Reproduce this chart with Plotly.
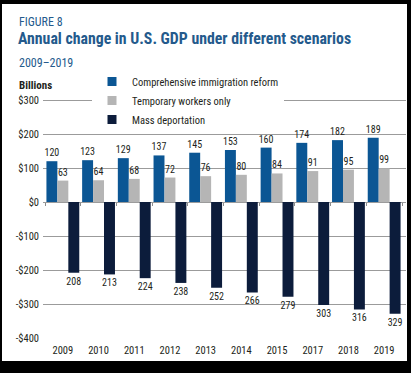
import plotly.graph_objects as go

years = ["2009", "2010", "2011", "2012", "2013", "2014", "2015", "2017", "2018", "2019"]
reform = [120, 123, 129, 137, 145, 153, 160, 174, 182, 189]
temporary = [63, 64, 68, 72, 76, 80, 84, 91, 95, 99]
deportation = [-208, -213, -224, -238, -252, -266, -279, -303, -316, -329]
series_names = ["Comprehensive immigration reform", "Temporary workers only", "Mass deportation"]
y_tickvals = [300, 200, 100, 0, -100, -200, -300, -400]
y_ticktext = ["$300", "$200", "$100", "$0", "-$100", "-$200", "-$300", "-$400"]

colors = ["#0b5694", "#b5b5b5", "#0c1c3b"]
FONT = "Liberation Sans Narrow, Roboto Condensed, DejaVu Sans Condensed, Liberation Sans, sans-serif"
TITLE_BLUE = "#245a8c"

W, H = 411, 373
L, R, T, B = 43, 5, 98, 34
PW, PH = W - L - R, H - T - B
Y0, Y1 = -402.9, 305.9


def px_x(px):
    return (px - L) / PW


def px_y(py):
    return (H - B - py) / PH


fig = go.Figure()
for name, vals, col in zip(series_names, [reform, temporary, deportation], colors):
    fig.add_trace(go.Bar(
        x=years, y=vals, name=name, marker=dict(color=col, line=dict(width=0)),
        text=[str(abs(v)) for v in vals], textposition="outside", constraintext="none",
        textfont=dict(size=10, color="#231f20", family=FONT),
        cliponaxis=False, showlegend=False, hoverinfo="skip",
    ))
# legend entries with small square keys
for name, col in zip(series_names, colors):
    fig.add_trace(go.Scatter(
        x=[None], y=[None], mode="markers", name=name,
        marker=dict(symbol="square", size=9, color=col), showlegend=True,
    ))

# zero-line tick marks at category boundaries
fig.add_trace(go.Scatter(x=[None], y=[None], xaxis="x2", showlegend=False))

fig.update_layout(
    width=W, height=H,
    margin=dict(l=L, r=R, t=T, b=B, pad=0),
    paper_bgcolor="white", plot_bgcolor="white",
    barmode="group", bargap=0.08, bargroupgap=0,
    font=dict(family=FONT, size=10, color="#231f20"),
    showlegend=True,
    legend=dict(
        x=px_x(92), y=px_y(67), xanchor="left", yanchor="top",
        bgcolor="white", borderwidth=0, font=dict(size=10.5, color="#231f20", family=FONT),
        traceorder="normal", itemsizing="trace",
    ),
    xaxis=dict(
        type="category", categoryorder="array", categoryarray=years,
        range=[-0.556, 9.612], showgrid=False, showline=False, zeroline=False,
        ticks="", ticklabelstandoff=3, tickfont=dict(size=10.5, color="#231f20"),
    ),
    xaxis2=dict(
        overlaying="x", anchor="free", position=(0 - Y0) / (Y1 - Y0),
        range=[-0.556, 9.612], tickmode="array",
        tickvals=[i - 0.5 for i in range(len(years) + 1)],
        showticklabels=False, ticks="outside", ticklen=3, tickcolor="#8c8c8c",
        showgrid=False, showline=False, zeroline=False, side="bottom",
    ),
    yaxis=dict(
        range=[Y0, Y1], tickmode="array", tickvals=y_tickvals, ticktext=y_ticktext,
        showgrid=True, gridcolor="#9b9b9b", gridwidth=1,
        zeroline=True, zerolinecolor="#9b9b9b", zerolinewidth=1,
        showline=False, ticks="", ticklabelstandoff=3,
        tickfont=dict(size=10.5, color="#231f20"),
    ),
    annotations=[
        dict(text="FIGURE 8", x=px_x(17), y=px_y(22), xref="paper", yref="paper",
             xanchor="left", yanchor="middle", showarrow=False,
             font=dict(size=12, color=TITLE_BLUE, family=FONT)),
        dict(text="<b>Annual change in U.S. GDP under different scenarios</b>",
             x=px_x(16), y=px_y(39), xref="paper", yref="paper",
             xanchor="left", yanchor="middle", showarrow=False,
             font=dict(size=15.8, color=TITLE_BLUE, family=FONT)),
        dict(text="2009\u20132019", x=px_x(17), y=px_y(63), xref="paper", yref="paper",
             xanchor="left", yanchor="middle", showarrow=False,
             font=dict(size=12, color=TITLE_BLUE, family=FONT)),
        dict(text="<b>Billions</b>", x=px_x(17), y=px_y(85), xref="paper", yref="paper",
             xanchor="left", yanchor="middle", showarrow=False,
             font=dict(size=11, color="#231f20", family=FONT)),
    ],
    shapes=[
        dict(type="rect", xref="paper", yref="paper", x0=px_x(0), x1=px_x(W), y0=px_y(0), y1=px_y(4),
             fillcolor="black", line=dict(width=0), layer="above"),
        dict(type="rect", xref="paper", yref="paper", x0=px_x(0), x1=px_x(W), y0=px_y(361), y1=px_y(H),
             fillcolor="black", line=dict(width=0), layer="above"),
        dict(type="rect", xref="paper", yref="paper", x0=px_x(0), x1=px_x(2), y0=px_y(0), y1=px_y(H),
             fillcolor="black", line=dict(width=0), layer="above"),
        dict(type="rect", xref="paper", yref="paper", x0=px_x(407), x1=px_x(W), y0=px_y(0), y1=px_y(H),
             fillcolor="black", line=dict(width=0), layer="above"),
    ],
)

fig.write_html(
    "out.html",
    config={"displayModeBar": False},
    post_script="document.body.style.margin='0px';document.body.style.overflow='hidden';",
)
